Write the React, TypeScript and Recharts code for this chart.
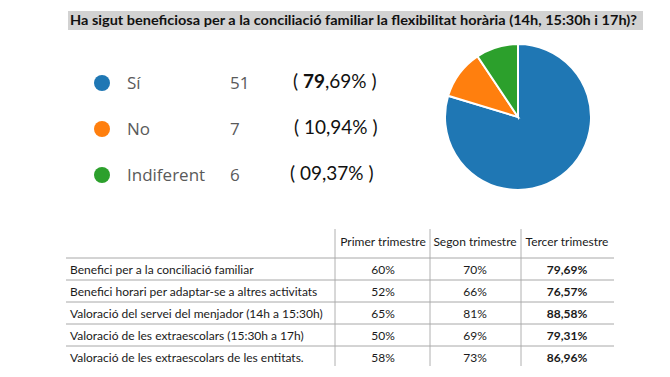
import React from 'react';
import { PieChart, Pie, Cell } from 'recharts';

const answers = ['Sí', 'No', 'Indiferent'];
const counts = [51, 7, 6];
const percentBold = ['79', '', ''];
const percentRest = [',69%', '10,94%', '09,37%'];
const colors = ['#1f77b4', '#ff7f0e', '#2ca02c'];

const quarters = ['Primer trimestre', 'Segon trimestre', 'Tercer trimestre'];
const rowLabels = [
  'Benefici per a la conciliació familiar',
  'Benefici horari per adaptar-se a altres activitats',
  'Valoració del servei del menjador (14h a 15:30h)',
  'Valoració de les extraescolars (15:30h a 17h)',
  'Valoració de les extraescolars de les entitats.',
];
const q1 = ['60%', '52%', '65%', '50%', '58%'];
const q2 = ['70%', '66%', '81%', '69%', '73%'];
const q3 = ['79,69%', '76,57%', '88,58%', '79,31%', '86,96%'];

const title = 'Ha sigut beneficiosa per a la conciliació familiar la flexibilitat horària (14h, 15:30h i 17h)?';

const pieData = answers.map((a, i) => ({ name: a, value: counts[i] }));

const W = 670;
const H = 377;

export default function App() {
  const legendY = [89, 135, 181];
  const pctX = [293, 294, 290];
  const rowY = [274, 296, 318, 340, 362];
  const lineY = [258, 280, 302, 324, 346];
  const colX = [335, 430, 521];
  const colC = [383, 475, 567];
  const tableFont = 'Lato, "Open Sans", sans-serif';
  const cols = [q1, q2, q3];
  return (
    <div style={{ position: 'absolute', left: 0, top: 0, width: W, height: H, background: '#fff' }}>
      <div style={{ position: 'absolute', left: 0, top: 0 }}>
        <PieChart width={W} height={H} margin={{ top: 0, right: 0, bottom: 0, left: 0 }}>
          <Pie
            data={pieData}
            dataKey="value"
            cx={518}
            cy={117}
            outerRadius={73}
            startAngle={90}
            endAngle={-270}
            stroke="#ffffff"
            strokeWidth={2}
            isAnimationActive={false}
          >
            {pieData.map((d, i) => (
              <Cell key={d.name} fill={colors[i]} />
            ))}
          </Pie>
        </PieChart>
      </div>
      <svg width={W} height={H} style={{ position: 'absolute', left: 0, top: 0 }}>
        <rect x={68} y={11} width={575} height={19} fill="#d2d2d2" />
        <text
          x={70}
          y={25}
          fontFamily={tableFont}
          fontWeight="bold"
          fontSize={13}
          fill="#111"
          textLength={567}
          lengthAdjust="spacingAndGlyphs"
        >
          {title}
        </text>
        {answers.map((a, i) => (
          <g key={a}>
            <circle cx={102} cy={legendY[i] - 6} r={8} fill={colors[i]} />
            <text x={127} y={legendY[i]} fontFamily='"Open Sans", sans-serif' fontSize={17} fill="#5a5a5a">
              {a}
            </text>
            <text x={230} y={legendY[i]} fontFamily='"Open Sans", sans-serif' fontSize={17} fill="#5a5a5a">
              {counts[i]}
            </text>
            <text x={pctX[i]} y={legendY[i] - 1} fontFamily={tableFont} fontSize={19} fill="#111">
              {'( '}
              {percentBold[i] ? <tspan fontWeight="bold">{percentBold[i]}</tspan> : null}
              {percentRest[i] + ' )'}
            </text>
          </g>
        ))}
        {colX.map((x) => (
          <line key={x} x1={x} x2={x} y1={229} y2={366} stroke="#b0b0b0" strokeWidth={1} />
        ))}
        {lineY.map((y) => (
          <line key={y} x1={66} x2={614} y1={y} y2={y} stroke="#a8a8a8" strokeWidth={1} />
        ))}
        {quarters.map((q, j) => (
          <text key={q} x={colC[j]} y={246} textAnchor="middle" fontFamily={tableFont} fontSize={12} fill="#1a1a1a">
            {q}
          </text>
        ))}
        {rowLabels.map((r, i) => (
          <g key={r}>
            <text x={70} y={rowY[i]} fontFamily={tableFont} fontSize={12} fill="#1a1a1a">
              {r}
            </text>
            {cols.map((c, j) => (
              <text
                key={j}
                x={colC[j]}
                y={rowY[i]}
                textAnchor="middle"
                fontFamily={tableFont}
                fontSize={12}
                fontWeight={j === 2 ? 'bold' : 'normal'}
                fill="#1a1a1a"
              >
                {c[i]}
              </text>
            ))}
          </g>
        ))}
      </svg>
    </div>
  );
}
